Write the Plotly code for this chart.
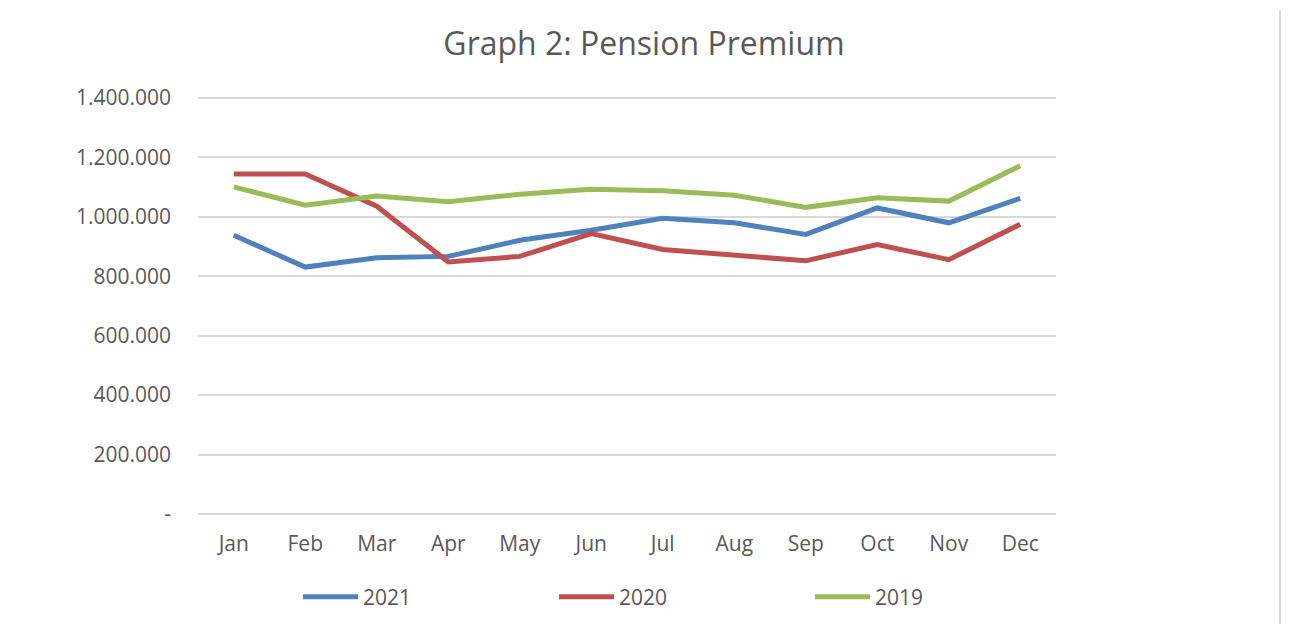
import plotly.graph_objects as go

months = ["Jan", "Feb", "Mar", "Apr", "May", "Jun", "Jul", "Aug", "Sep", "Oct", "Nov", "Dec"]
series_2021 = [938000, 831000, 862000, 867000, 921000, 955000, 995000, 980000, 941000, 1030000, 980000, 1062000]
series_2020 = [1144000, 1144000, 1036000, 848000, 867000, 944000, 890000, 873000, 852000, 907000, 856000, 975000]
series_2019 = [1101000, 1039000, 1070000, 1051000, 1076000, 1093000, 1088000, 1073000, 1032000, 1064000, 1053000, 1172000]
y_tickvals = [0, 200000, 400000, 600000, 800000, 1000000, 1200000, 1400000]
y_ticktext = ["-", "200.000", "400.000", "600.000", "800.000", "1.000.000", "1.200.000", "1.400.000"]

FONT = "Open Sans, sans-serif"
GREY = "#595959"
OFF = 8  # page body margin offset
PAD = 3  # px of padding so edge gridlines are not culled

fig = go.Figure()
for name, vals, color in [("2021", series_2021, "#4F81BD"),
                          ("2020", series_2020, "#C0504D"),
                          ("2019", series_2019, "#9BBB59")]:
    fig.add_trace(go.Scatter(x=months, y=vals, name=name, mode="lines",
                             line=dict(color=color, width=5)))

W, H = 1289, 624
L, T = 198 - OFF, 98 - OFF - PAD
R = W - (1056 - OFF)
B = H - (514 - OFF + PAD)
pw, ph = W - L - R, H - T - B
unit_per_px = 1400000 / 416
ypad = PAD * unit_per_px

fig.update_layout(
    width=W, height=H,
    margin=dict(l=L, r=R, t=T, b=B),
    paper_bgcolor="white", plot_bgcolor="white",
    font=dict(family=FONT, color=GREY, size=21),
    title=dict(text="Graph 2: Pension Premium", x=(644 - OFF) / W, xanchor="center",
               y=1 - (44 - OFF) / H, yanchor="middle",
               font=dict(family=FONT, size=32, color=GREY)),
    xaxis=dict(type="category", showgrid=False, showline=False, ticks="",
               ticklabelstandoff=12,
               tickfont=dict(size=21, color=GREY), range=[-0.5, 11.5]),
    yaxis=dict(range=[-ypad, 1400000 + ypad], tickvals=y_tickvals, ticktext=y_ticktext,
               showgrid=True, gridcolor="#D9D9D9", gridwidth=1.5, zeroline=False,
               showline=False, ticks="", ticklabelstandoff=26,
               tickfont=dict(size=21, color=GREY)),
    showlegend=True,
    legend=dict(orientation="h", xref="container", yref="container",
                x=(298 - OFF) / W, xanchor="left",
                y=1 - (597 - OFF) / H, yanchor="middle",
                itemwidth=55,
                entrywidth=186, entrywidthmode="pixels",
                font=dict(size=21, color=GREY), bgcolor="rgba(0,0,0,0)"),
    shapes=[dict(type="line", xref="paper", yref="paper",
                 x0=(1280 - OFF - L) / pw, x1=(1280 - OFF - L) / pw,
                 y0=-0.3, y1=1.2,
                 line=dict(color="#D9D9D9", width=2))],
)

fig.write_html("out.html")
